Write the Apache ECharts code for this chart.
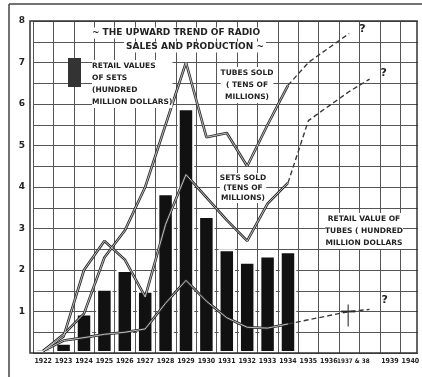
<!DOCTYPE html>
<html><head><meta charset="utf-8">
<script src="https://cdn.jsdelivr.net/npm/echarts@6/dist/echarts.min.js"></script>
<style>html,body{margin:0;padding:0;background:#fff}#c{width:422px;height:377px}</style>
</head><body><div id="c"></div>
<script>
// ---- data ----
const years = ['1922','1923','1924','1925','1926','1927','1928','1929','1930','1931','1932','1933','1934','1935','1936','1937','1938','1939','1940'];
const yearLabels = ['1922','1923','1924','1925','1926','1927','1928','1929','1930','1931','1932','1933','1934','1935','1936','','1937 & 38','1939','1940'];
// Retail values of sets (hundred million dollars), 1922-1934
const setsRetailValue = [0.1, 0.25, 0.95, 1.55, 2.0, 1.5, 3.85, 5.9, 3.3, 2.5, 2.2, 2.35, 2.45];
// Tubes sold (tens of millions)
const tubesSold = [0.05, 0.45, 0.95, 2.3, 2.95, 4.0, 5.5, 7.0, 5.2, 5.3, 4.5, 5.5, 6.45];
const tubesSoldForecast = [null,null,null,null,null,null,null,null,null,null,null,null, 6.45, 7.0, 7.35, 7.7];
// Sets sold (tens of millions)
const setsSold = [0.05, 0.4, 2.0, 2.7, 2.25, 1.35, 3.1, 4.3, 3.75, 3.2, 2.7, 3.6, 4.1];
const setsSoldForecast = [null,null,null,null,null,null,null,null,null,null,null,null, 4.1, 5.6, 5.95, 6.3, 6.6];
// Retail value of tubes (hundred million dollars)
const tubesRetailValue = [0.05, 0.3, 0.37, 0.45, 0.5, 0.58, 1.2, 1.75, 1.25, 0.85, 0.62, 0.6, 0.7];
const tubesRetailForecast = [null,null,null,null,null,null,null,null,null,null,null,null, 0.7, 0.8, 0.9, 1.0, 1.05];
const crossMark = [['1937', 1.0]];

const FONT = 'DejaVu Sans';

function solidLine(data) {
  return [
    { type: 'line', data, symbol: 'none', z: 3, silent: true,
      lineStyle: { color: '#2a2a2a', width: 2.6 } },
    { type: 'line', data, symbol: 'none', z: 4, silent: true,
      lineStyle: { color: '#cfcfcf', width: 0.9 } }
  ];
}
function dashedLine(data, off) {
  return { type: 'line', data, symbol: 'none', z: 4, silent: true,
    lineStyle: { color: '#3a3a3a', width: 1.4, type: [5, 3] },
    endLabel: { show: true, formatter: '?', fontSize: 11, fontWeight: 'bold',
      fontFamily: FONT, color: '#222', offset: off } };
}

const xData = years.map((y, i) => yearLabels[i] === '1937 & 38'
  ? { value: y, textStyle: { align: 'right', fontSize: 6.3 } } : y);

const chart = echarts.init(document.getElementById('c'));
chart.setOption({
  animation: false,
  backgroundColor: '#fff',
  grid: { left: 33, right: -4, top: 21, bottom: 24 },
  xAxis: {
    type: 'category', data: xData, boundaryGap: true,
    axisLine: { show: false }, axisTick: { show: false },
    splitLine: { show: true, interval: 0, lineStyle: { color: '#555', width: 1 } },
    axisLabel: { interval: 0, margin: 5, fontSize: 7, fontWeight: 'bold',
      fontFamily: 'DejaVu Sans Condensed', color: '#222',
      formatter: (v, i) => yearLabels[i] }
  },
  yAxis: {
    type: 'value', min: 0, max: 8, interval: 0.5,
    axisLine: { show: false }, axisTick: { show: false },
    splitLine: { lineStyle: { color: '#555', width: 1 } },
    axisLabel: { margin: 8, fontSize: 9, fontWeight: 'bold', fontFamily: FONT, color: '#222',
      formatter: v => (v > 0 && v % 1 === 0) ? String(v) : '' }
  },
  series: [
    { type: 'bar', data: setsRetailValue, barWidth: 16.5, z: 2, silent: true,
      itemStyle: { color: '#111', borderColor: '#fff', borderWidth: 2 } },
    ...solidLine(tubesRetailValue),
    ...solidLine(setsSold),
    ...solidLine(tubesSold),
    dashedLine(tubesSoldForecast, [2, -4]),
    dashedLine(setsSoldForecast, [3, -6]),
    dashedLine(tubesRetailForecast, [4, -9]),
    { type: 'scatter', data: crossMark, z: 5, silent: true,
      symbol: 'path://M7,0 L7,22 M0,7 L14,7', symbolSize: [14, 22], symbolOffset: [-1, 4],
      itemStyle: { color: 'none', borderColor: '#222', borderWidth: 1.6 } }
  ],
  graphic: [
    // white beyond plot frame on the right
    { type: 'rect', z: 99, shape: { x: 418, y: 0, width: 10, height: 354 }, style: { fill: '#fff' } },
    // outer page frame
    { type: 'line', z: 100, shape: { x1: 9, y1: 4, x2: 422, y2: 4 }, style: { stroke: '#444', lineWidth: 1.5 } },
    { type: 'line', z: 100, shape: { x1: 9, y1: 4, x2: 9, y2: 377 }, style: { stroke: '#444', lineWidth: 1.5 } },
    // plot frame
    { type: 'rect', z: 100, shape: { x: 30, y: 21, width: 387, height: 332 }, style: { fill: 'none', stroke: '#333', lineWidth: 1.5 } },
    // title
    { type: 'text', z: 101, x: 176, y: 33, style: { text: '~ THE UPWARD TREND OF RADIO', fontSize: 9, fontWeight: 'bold', fontFamily: FONT, fill: '#222', align: 'center', verticalAlign: 'middle', backgroundColor: '#fff', padding: [1, 2] } },
    { type: 'text', z: 101, x: 195, y: 47, style: { text: 'SALES AND PRODUCTION ~', fontSize: 9, fontWeight: 'bold', fontFamily: FONT, fill: '#222', align: 'center', verticalAlign: 'middle', backgroundColor: '#fff', padding: [1, 2] } },
    // legend swatch + text
    { type: 'rect', z: 101, shape: { x: 68, y: 58, width: 13, height: 29 }, style: { fill: '#333' } },
    { type: 'text', z: 101, x: 92, y: 60, style: { text: 'RETAIL VALUES\nOF SETS\n(HUNDRED\nMILLION DOLLARS)', lineHeight: 12, fontSize: 7.5, fontWeight: 'bold', fontFamily: FONT, fill: '#222', align: 'left', verticalAlign: 'top', backgroundColor: '#fff' } },
    // annotations
    { type: 'text', z: 101, x: 247, y: 67, style: { text: 'TUBES SOLD\n( TENS OF\nMILLIONS)', lineHeight: 12, fontSize: 7.5, fontWeight: 'bold', fontFamily: FONT, fill: '#222', align: 'center', verticalAlign: 'top', backgroundColor: '#fff' } },
    { type: 'text', z: 101, x: 243, y: 173, style: { text: 'SETS SOLD\n(TENS OF\nMILLIONS)', lineHeight: 10, fontSize: 7.5, fontWeight: 'bold', fontFamily: FONT, fill: '#222', align: 'center', verticalAlign: 'top', backgroundColor: '#fff' } },
    { type: 'text', z: 101, x: 364, y: 213, style: { text: 'RETAIL VALUE OF\nTUBES ( HUNDRED\nMILLION DOLLARS', lineHeight: 12, fontSize: 7.5, fontWeight: 'bold', fontFamily: FONT, fill: '#222', align: 'center', verticalAlign: 'top', backgroundColor: '#fff' } }
  ]
});
</script>
</body></html>
